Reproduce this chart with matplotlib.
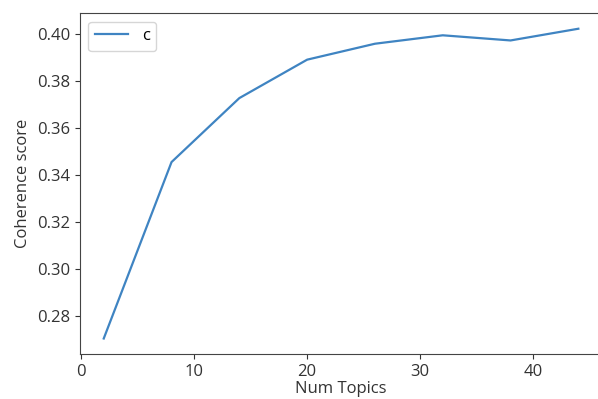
import matplotlib
matplotlib.use('Agg')
from matplotlib import pyplot as plt

num_topics = [2, 8, 14, 20, 26, 32, 38, 44]
coherence = [0.2702, 0.3455, 0.3728, 0.3892, 0.3960, 0.3996, 0.3974, 0.4024]

plt.rcParams['font.family'] = ['Open Sans', 'DejaVu Sans']
plt.rcParams['font.size'] = 12

fig = plt.figure(figsize=(5.98, 3.99), dpi=100)
ax = fig.add_axes([0.1338, 0.1128, 0.873, 0.854])
ax.plot(num_topics, coherence, color='#3f84c2', linewidth=1.6, label='c')
ax.set_xlabel('Num Topics', color='#333333', labelpad=1)
ax.set_ylabel('Coherence score', color='#333333')
ax.set_xticks([0, 10, 20, 30, 40])
ax.set_yticks([0.28, 0.30, 0.32, 0.34, 0.36, 0.38, 0.40])
ax.tick_params(colors='#333333', labelcolor='#333333')
for s in ax.spines.values():
    s.set_color('#444444')
ax.legend(loc='upper left')

fig.savefig('out.png', dpi=100)
